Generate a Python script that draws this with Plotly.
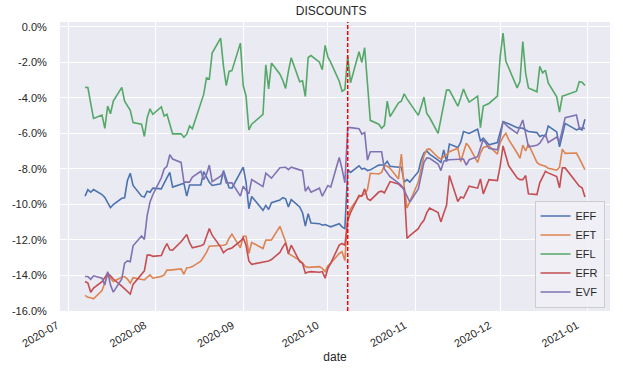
import pandas as pd
import plotly.graph_objects as go

# ---- data (percent discount, business days 2020-07-07 .. 2020-12-31) ----
holidays = ["2020-09-07", "2020-11-26", "2020-12-25"]

EFF = [
    # Jul
    -9.53, -9.16, -9.31, -9.16, -9.44, -9.60, -9.90, -10.18, -10.00, -9.65, -9.62, -8.65, -8.24, -8.93,
    -9.53, -9.58, -9.25, -9.31, -9.08,
    # Aug
    -9.12, -8.80, -8.50, -8.19, -9.02, -8.85, -8.80, -9.53, -8.90, -8.90, -8.90, -8.15, -8.50, -8.75, -8.93,
    -8.84, -8.09, -8.60, -9.06, -9.08, -8.20,
    # Sep
    -7.90, -8.74, -10.24, -9.55, -10.33, -10.05, -10.28, -9.90, -9.75, -9.62, -9.68, -10.14, -9.73,
    -10.14, -10.46, -11.21, -10.52, -11.04, -11.08, -11.17, -11.13,
    # Oct
    -11.20, -11.26, -11.08, -11.26, -11.36, -8.04, -8.19, -7.82, -8.00, -7.96, -8.09, -8.05,
    -7.78, -7.76, -7.76, -7.57, -7.85, -7.90, -7.90, -8.74, -8.60, -8.74,
    # Nov
    -8.15, -7.50, -7.10, -6.98, -7.16, -7.50, -7.63, -6.92, -7.59, -6.60, -6.79, -6.50, -5.89, -5.95, -6.00,
    -5.76, -6.42, -6.27, -6.64, -6.51,
    # Dec
    -5.95, -5.33, -5.40, -5.45, -5.67, -5.70, -5.71, -5.80, -5.89, -5.95, -6.17, -6.10, -6.17, -5.58,
    -5.91, -6.75, -6.00, -5.43, -5.80, -5.73, -5.80, -5.20,
]

EFT = [
    -15.12, -15.23, -15.25, -15.31, -14.85, -14.34, -13.97, -14.15, -14.34, -14.10, -14.06, -14.20, -14.43, -14.12,
    -14.20, -14.25, -14.10, -13.97, -14.15,
    -14.05, -13.97, -13.69, -13.70, -13.69, -13.63, -13.93, -13.56, -13.55, -13.50, -13.20, -12.94, -12.70, -12.35, -12.34,
    -12.33, -12.30, -12.25, -11.90, -11.67, -12.44,
    -11.79, -11.79, -12.76, -12.14, -12.48, -12.01, -12.01, -12.00, -11.23, -11.70, -12.10, -12.76, -12.85,
    -13.15, -13.30, -13.50, -13.54, -13.52, -13.50, -13.60, -13.78,
    -13.45, -13.30, -12.76, -12.66, -13.16, -10.61, -10.24, -9.58, -9.50, -9.40, -9.17, -8.24,
    -8.28, -8.19, -7.80, -7.85, -7.96, -8.56, -7.16, -9.02, -10.20, -9.86,
    -8.74, -8.00, -7.26, -6.90, -6.87, -7.35, -7.44, -7.31, -7.20, -7.03, -6.83, -7.59, -7.00, -6.55, -6.75,
    -7.63, -7.10, -6.79, -6.70, -7.16,
    -6.51, -6.20, -5.99, -6.35, -7.10, -7.40, -6.66, -6.98, -6.60, -7.63, -7.75, -7.78, -7.85, -7.96,
    -8.06, -7.90, -6.88, -7.12, -7.10, -7.40, -7.70, -8.04,
]

EFL = [
    -3.40, -3.41, -4.30, -5.15, -4.96, -5.71, -4.46, -4.89, -4.18, -3.40, -4.18, -4.45, -4.70, -5.39,
    -5.48, -6.17, -5.11, -4.61, -4.92,
    -4.50, -5.02, -4.92, -5.50, -6.02, -6.02, -6.21, -6.04, -5.58, -5.73, -4.20, -3.80, -2.87, -2.93, -1.47,
    -0.63, -2.20, -3.30, -2.50, -2.46, -0.91,
    -3.30, -3.90, -5.80, -5.48, -4.92, -2.13, -3.49, -2.03, -2.66, -3.00, -3.46, -2.50, -1.73,
    -3.08, -3.03, -3.92, -1.72, -1.61, -1.98, -2.41, -1.04,
    -1.70, -2.00, -3.06, -3.62, -3.52, -1.62, -3.15, -1.40, -2.00, -1.17, -3.20, -5.26,
    -5.48, -5.71, -5.54, -4.18, -5.05, -4.27, -4.18, -3.77, -4.05, -4.30,
    -4.98, -4.50, -3.95, -4.87, -5.10, -5.99, -5.10, -4.27, -3.56, -3.56, -4.46, -4.00, -3.49, -3.90, -4.23,
    -3.90, -5.67, -4.46, -4.31, -3.90,
    -1.66, -0.35, -1.94, -2.30, -3.43, -3.06, -0.82, -2.60, -3.43, -3.65, -2.22, -2.59, -2.44, -3.15,
    -3.93, -4.79, -3.90, -3.85, -3.62, -3.08, -3.11, -3.30,
]

EFR = [
    -14.34, -14.43, -14.94, -14.71, -14.35, -14.10, -13.87, -14.02, -14.20, -14.60, -14.75, -14.95, -15.05, -14.50,
    -13.90, -13.74, -12.85, -12.85, -12.92,
    -12.88, -12.50, -12.20, -12.55, -12.57, -12.10, -11.90, -11.69, -12.15, -12.44, -12.32, -12.25, -11.80, -11.36, -11.73,
    -12.40, -12.72, -12.57, -12.50, -12.45, -12.07,
    -11.88, -12.29, -13.18, -13.37, -13.26, -13.22, -13.18, -13.10, -12.70, -12.40, -12.16, -12.76, -12.29,
    -13.22, -13.31, -13.87, -13.80, -13.78, -13.82, -13.78, -14.15,
    -13.60, -13.30, -12.29, -12.20, -12.29, -10.90, -10.46, -9.49, -9.53, -9.12, -9.68, -9.77,
    -9.30, -9.25, -9.34, -9.00, -8.71, -8.84, -9.00, -9.08, -11.92, -11.75,
    -11.36, -11.08, -10.89, -10.46, -10.20, -10.46, -10.98, -10.50, -10.05, -8.37, -9.83, -9.58, -9.64, -9.30, -8.97,
    -9.08, -8.56, -9.40, -8.60, -8.65,
    -7.82, -6.70, -7.30, -7.82, -8.50, -8.60, -8.60, -8.37, -9.40, -9.44, -8.78, -8.45, -8.13, -8.22,
    -8.43, -9.06, -7.94, -7.94, -8.78, -8.97, -9.06, -9.58,
]

EVF = [
    -14.06, -14.06, -14.21, -14.02, -14.15, -14.53, -13.78, -14.53, -14.94, -14.20, -13.31, -13.18, -13.22, -12.33,
    -11.77, -11.97, -10.61, -9.86, -9.45,
    -8.50, -8.00, -7.85, -7.20, -7.44, -7.63, -8.74, -8.74, -8.74, -8.46, -8.13, -8.60, -8.30, -7.78, -8.71,
    -8.41, -8.19, -8.78, -8.78, -8.78, -9.53,
    -8.97, -9.20, -9.40, -8.60, -8.99, -8.24, -8.40, -8.52, -7.93, -7.92, -7.90, -8.04, -7.90,
    -8.05, -8.09, -9.25, -9.02, -9.31, -9.08, -9.53, -9.20,
    -8.93, -9.02, -7.35, -8.00, -8.78, -5.67, -5.67, -5.73, -6.04, -5.95, -7.50, -7.03,
    -7.03, -7.03, -8.00, -8.24, -8.43, -8.80, -8.93, -9.20, -9.53, -9.86,
    -9.12, -8.30, -7.63, -7.38, -7.40, -7.72, -8.09, -7.57, -7.50, -7.48, -7.45, -7.44, -7.44, -7.78, -7.48,
    -7.31, -6.80, -6.32, -6.84, -6.92,
    -6.23, -5.33, -5.50, -5.65, -5.99, -5.60, -5.24, -5.99, -6.75, -6.66, -6.55, -6.30, -6.04, -6.51,
    -6.20, -6.47, -5.80, -5.11, -4.96, -5.70, -5.70, -5.71,
]

series_names = ["EFF", "EFT", "EFL", "EFR", "EVF"]
series_colors = ["#4c72b0", "#dd8452", "#55a868", "#c44e52", "#8172b3"]

event_date = "2020-10-08"

y_tickvals = [0, -2, -4, -6, -8, -10, -12, -14, -16]
y_ticktext = ["0.0%", "-2.0%", "-4.0%", "-6.0%", "-8.0%", "-10.0%", "-12.0%", "-14.0%", "-16.0%"]
x_tickvals = ["2020-07-01", "2020-08-01", "2020-09-01", "2020-10-01", "2020-11-01", "2020-12-01", "2021-01-01"]
x_ticktext = ["2020-07", "2020-08", "2020-09", "2020-10", "2020-11", "2020-12", "2021-01"]

# ---- build ----
dates = pd.bdate_range("2020-07-07", "2020-12-31")
dates = dates[~dates.isin(pd.to_datetime(holidays))]
data = dict(zip(series_names, [EFF, EFT, EFL, EFR, EVF]))
for k, v in data.items():
    assert len(v) == len(dates), (k, len(v), len(dates))

FONT = "Liberation Sans, Arial, DejaVu Sans, sans-serif"
TXT = "#262626"

fig = go.Figure()
for name, color in zip(series_names, series_colors):
    fig.add_trace(go.Scatter(x=dates, y=data[name], mode="lines", name=name,
                             line=dict(color=color, width=1.6)))

fig.add_shape(type="line", xref="x", yref="paper", x0=event_date, x1=event_date, y0=0, y1=1,
              layer="above", line=dict(color="#ff0000", width=1.5, dash="4px,2px"))

fig.update_layout(
    width=623, height=374,
    margin=dict(l=53, r=13, t=22, b=61),
    paper_bgcolor="white",
    plot_bgcolor="#eaeaf2",
    font=dict(family=FONT, size=11, color=TXT),
    title=dict(text="DISCOUNTS", x=0.5315, xanchor="center", y=0.97, yanchor="middle",
               font=dict(size=12, color=TXT)),
    showlegend=True,
    legend=dict(x=0.99, y=0.012, xanchor="right", yanchor="bottom",
                bgcolor="rgba(240,240,246,0.85)", bordercolor="#cccccc", borderwidth=1,
                font=dict(size=11, color=TXT), itemwidth=30, tracegroupgap=0),
)
fig.update_xaxes(
    range=["2020-06-28 03:00", "2021-01-08 21:00"],
    tickvals=x_tickvals, ticktext=x_ticktext, tickangle=-30, ticklabelshift=-11,
    showgrid=True, gridcolor="white", gridwidth=1.2, zeroline=False, showline=False,
    ticks="outside", ticklen=3, tickcolor="rgba(0,0,0,0)",
    tickfont=dict(size=11, color=TXT),
    title=dict(text="date", font=dict(size=12, color=TXT), standoff=4),
)
fig.update_yaxes(
    range=[-16.0, 0.28],
    tickvals=y_tickvals, ticktext=y_ticktext,
    showgrid=True, gridcolor="white", gridwidth=1.2, zeroline=False, showline=False,
    ticks="outside", ticklen=10, tickcolor="rgba(0,0,0,0)",
    tickfont=dict(size=11, color=TXT),
)

fig.write_html("out.html",
               config={"displayModeBar": False},
               post_script="document.body.style.margin='0';document.body.style.padding='0';")
